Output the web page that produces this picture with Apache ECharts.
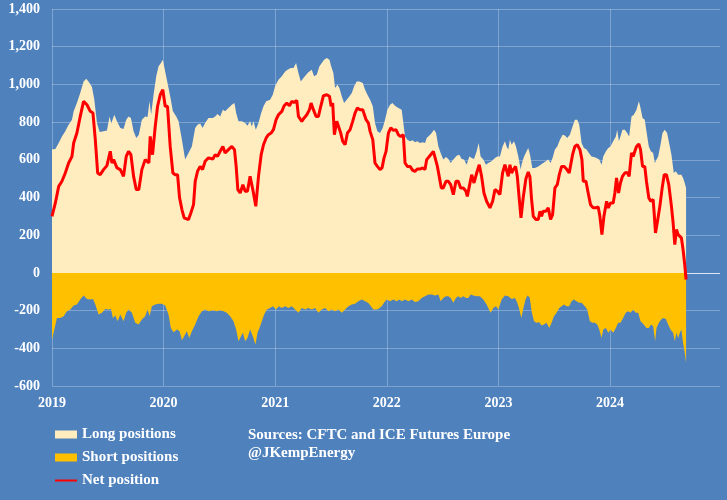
<!DOCTYPE html>
<html><head><meta charset="utf-8">
<script src="https://cdn.jsdelivr.net/npm/echarts@6/dist/echarts.min.js"></script>
<style>html,body{margin:0;padding:0;background:#4F81BD;}#c{width:727px;height:500px;}</style>
</head><body><div id="c"></div>
<script>
// x values: years elapsed since 1 Jan 2019; y values: positions (thousand lots)
const START_YEAR = 2019;
const yearTicks = [2019, 2020, 2021, 2022, 2023, 2024];
const seriesNames = ['Long positions', 'Short positions', 'Net position'];
const sourceLines = ['Sources: CFTC and ICE Futures Europe', '@JKempEnergy'];

const longPos = [[0.000,654],[0.030,657],[0.060,689],[0.089,724],[0.119,751],[0.149,786],[0.179,813],[0.194,857],[0.223,901],[0.253,954],[0.283,1016],[0.307,1030],[0.337,1007],[0.358,986],[0.379,919],[0.403,795],[0.427,747],[0.462,751],[0.492,756],[0.516,830],[0.531,792],[0.558,839],[0.582,804],[0.612,769],[0.641,763],[0.665,813],[0.686,830],[0.707,822],[0.731,751],[0.755,716],[0.778,733],[0.805,813],[0.835,830],[0.856,827],[0.874,910],[0.888,839],[0.910,945],[0.934,1043],[0.955,1096],[0.976,1113],[0.993,1131],[1.014,1069],[1.035,1007],[1.059,937],[1.083,857],[1.113,830],[1.134,804],[1.164,707],[1.193,601],[1.223,636],[1.253,671],[1.283,769],[1.304,786],[1.328,792],[1.349,769],[1.372,795],[1.402,822],
[1.417,830],[1.441,822],[1.462,830],[1.483,843],[1.507,830],[1.531,866],[1.551,857],[1.581,875],[1.611,892],[1.635,901],[1.650,848],[1.671,804],[1.701,804],[1.731,795],[1.751,781],[1.775,804],[1.790,777],[1.805,804],[1.826,760],[1.850,795],[1.874,848],[1.895,884],[1.919,910],[1.954,919],[1.978,945],[1.999,990],[2.029,1025],[2.059,1043],[2.089,1069],[2.110,1078],[2.140,1087],[2.164,1087],[2.187,1113],[2.208,1060],[2.229,1016],[2.253,1034],[2.277,1051],[2.297,1064],[2.327,1078],[2.348,1043],[2.372,1051],[2.396,1096],[2.417,1113],[2.438,1131],[2.462,1140],[2.486,1131],[2.501,1096],[2.521,1060],[2.536,981],[2.557,998],[2.575,981],[2.596,937],[2.617,901],[2.641,919],[2.665,937],[2.686,954],[2.707,990],[2.730,1016],[2.754,1016],[2.784,1007],
[2.805,972],[2.826,945],[2.850,919],[2.874,884],[2.894,795],[2.915,751],[2.939,742],[2.963,769],[2.984,813],[3.005,866],[3.029,892],[3.050,901],[3.073,887],[3.103,875],[3.133,866],[3.148,857],[3.163,724],[3.184,707],[3.208,698],[3.232,704],[3.252,693],[3.273,698],[3.297,689],[3.321,693],[3.342,689],[3.357,716],[3.381,729],[3.402,742],[3.423,760],[3.441,742],[3.462,671],[3.482,636],[3.506,601],[3.530,615],[3.551,604],[3.572,583],[3.596,601],[3.626,622],[3.649,627],[3.670,604],[3.691,601],[3.715,574],[3.739,618],[3.760,610],[3.781,604],[3.805,645],[3.823,689],[3.840,618],[3.864,601],[3.888,574],[3.909,583],[3.939,592],[3.969,610],[3.990,618],[4.013,618],[4.037,671],[4.058,698],[4.073,671],[4.088,654],[4.103,707],[4.118,680],[4.139,698],[4.157,671],[4.178,618],[4.199,548],
[4.207,575],[4.228,615],[4.252,645],[4.267,663],[4.282,630],[4.303,557],[4.327,557],[4.357,565],[4.378,574],[4.401,583],[4.425,592],[4.446,601],[4.467,583],[4.485,610],[4.506,654],[4.527,671],[4.551,707],[4.575,733],[4.596,729],[4.616,716],[4.640,733],[4.664,777],[4.685,813],[4.706,813],[4.724,786],[4.745,689],[4.766,663],[4.789,654],[4.813,633],[4.834,618],[4.855,615],[4.879,610],[4.903,601],[4.924,574],[4.939,618],[4.963,645],[4.984,663],[5.004,671],[5.028,698],[5.052,724],[5.064,760],[5.079,698],[5.093,724],[5.111,760],[5.132,760],[5.153,742],[5.171,724],[5.192,830],[5.213,839],[5.237,866],[5.258,910],[5.273,875],[5.291,822],[5.311,813],[5.326,751],[5.347,671],[5.365,645],[5.386,636],[5.401,583],[5.416,587],[5.431,618],[5.452,680],[5.470,742],[5.490,760],[5.511,742],[5.529,689],[5.550,627],[5.571,530],[5.589,539],[5.610,521],[5.625,530],[5.639,521],[5.654,504],[5.669,477],[5.681,451]];

const shortPos = [[0.000,-353],[0.021,-300],[0.044,-239],[0.074,-239],[0.104,-230],[0.134,-203],[0.164,-194],[0.194,-173],[0.223,-168],[0.253,-141],[0.283,-120],[0.313,-138],[0.343,-141],[0.367,-138],[0.388,-168],[0.418,-221],[0.447,-212],[0.477,-191],[0.507,-194],[0.528,-191],[0.546,-239],[0.567,-226],[0.588,-256],[0.612,-221],[0.641,-256],[0.665,-212],[0.686,-194],[0.716,-212],[0.746,-265],[0.776,-274],[0.805,-247],[0.835,-230],[0.856,-194],[0.874,-230],[0.895,-177],[0.925,-168],[0.955,-163],[0.985,-163],[1.014,-173],[1.044,-221],[1.065,-292],[1.089,-315],[1.119,-300],[1.143,-309],[1.164,-357],[1.184,-336],[1.208,-309],[1.229,-345],[1.253,-309],[1.283,-274],[1.313,-230],[1.343,-203],[1.372,-194],[1.402,-203],
[1.417,-212],[1.447,-198],[1.477,-203],[1.507,-198],[1.537,-203],[1.566,-212],[1.596,-230],[1.626,-256],[1.650,-300],[1.671,-362],[1.686,-371],[1.710,-318],[1.731,-362],[1.751,-345],[1.775,-300],[1.799,-336],[1.823,-380],[1.841,-318],[1.859,-292],[1.880,-256],[1.901,-221],[1.925,-194],[1.954,-186],[1.978,-177],[2.008,-194],[2.032,-177],[2.059,-186],[2.089,-177],[2.118,-186],[2.148,-177],[2.178,-194],[2.208,-212],[2.238,-186],[2.268,-194],[2.297,-186],[2.327,-194],[2.357,-186],[2.387,-212],[2.417,-194],[2.447,-186],[2.477,-203],[2.507,-194],[2.536,-203],[2.566,-194],[2.596,-212],[2.626,-194],[2.656,-177],[2.686,-168],[2.715,-163],[2.745,-150],[2.775,-141],
[2.805,-150],[2.835,-160],[2.879,-194],[2.903,-194],[2.924,-191],[2.954,-177],[2.975,-159],[2.999,-141],[3.029,-150],[3.059,-141],[3.088,-150],[3.112,-141],[3.133,-150],[3.163,-141],[3.193,-150],[3.223,-141],[3.252,-155],[3.282,-150],[3.312,-133],[3.342,-124],[3.372,-115],[3.402,-115],[3.432,-120],[3.462,-115],[3.482,-150],[3.506,-133],[3.530,-124],[3.551,-124],[3.572,-133],[3.596,-159],[3.619,-133],[3.640,-124],[3.661,-133],[3.685,-124],[3.709,-133],[3.730,-133],[3.751,-115],[3.775,-120],[3.805,-124],[3.834,-124],[3.864,-141],[3.894,-168],[3.915,-194],[3.930,-212],[3.954,-186],[3.978,-177],[3.999,-194],[4.029,-141],[4.058,-120],[4.088,-124],[4.118,-138],[4.148,-133],[4.169,-159],[4.187,-194],[4.205,-239],[4.222,-190],[4.243,-141],[4.260,-120],[4.280,-130],
[4.297,-203],[4.318,-256],[4.342,-265],[4.366,-262],[4.386,-279],[4.407,-274],[4.431,-265],[4.455,-292],[4.476,-265],[4.497,-230],[4.521,-212],[4.545,-186],[4.566,-177],[4.587,-168],[4.610,-177],[4.634,-177],[4.655,-150],[4.676,-141],[4.699,-150],[4.724,-159],[4.745,-159],[4.774,-177],[4.795,-194],[4.819,-256],[4.843,-265],[4.864,-265],[4.885,-274],[4.903,-300],[4.924,-345],[4.939,-300],[4.963,-292],[4.984,-318],[5.004,-300],[5.028,-318],[5.052,-292],[5.073,-265],[5.093,-265],[5.117,-239],[5.141,-212],[5.162,-203],[5.183,-212],[5.207,-194],[5.231,-212],[5.252,-212],[5.273,-256],[5.302,-274],[5.326,-292],[5.347,-292],[5.368,-274],[5.386,-283],[5.404,-362],[5.416,-292],[5.437,-265],[5.458,-247],[5.476,-239],[5.500,-244],[5.520,-274],[5.541,-300],[5.565,-318],[5.580,-362],[5.595,-318],[5.610,-345],[5.625,-318],[5.639,-300],[5.654,-371],[5.669,-424],[5.681,-477]];

const netPos = [[0.000,300],[0.030,371],[0.060,459],[0.089,486],[0.119,530],[0.149,583],[0.179,618],[0.194,689],[0.223,742],[0.253,830],[0.283,910],[0.313,892],[0.343,857],[0.367,848],[0.388,707],[0.409,530],[0.432,521],[0.462,548],[0.492,569],[0.507,574],[0.522,645],[0.537,583],[0.552,601],[0.582,557],[0.612,548],[0.641,512],[0.665,618],[0.686,645],[0.707,627],[0.731,512],[0.755,442],[0.778,442],[0.805,548],[0.835,601],[0.850,610],[0.868,583],[0.880,724],[0.901,627],[0.925,777],[0.946,884],[0.970,945],[0.993,972],[1.014,884],[1.035,884],[1.059,671],[1.083,530],[1.104,521],[1.125,521],[1.143,398],[1.164,336],[1.184,292],[1.223,283],[1.244,318],[1.268,362],[1.283,486],[1.304,539],[1.328,565],[1.349,548],[1.372,592],[1.402,610],
[1.417,618],[1.441,604],[1.462,627],[1.483,618],[1.507,645],[1.531,671],[1.551,636],[1.581,654],[1.611,671],[1.635,654],[1.650,565],[1.665,442],[1.686,424],[1.710,468],[1.731,433],[1.751,433],[1.775,512],[1.799,442],[1.826,353],[1.850,512],[1.874,627],[1.895,680],[1.919,716],[1.939,733],[1.963,742],[1.984,760],[2.008,813],[2.029,839],[2.059,857],[2.080,887],[2.104,901],[2.128,887],[2.148,910],[2.169,904],[2.193,915],[2.208,830],[2.223,834],[2.238,804],[2.259,822],[2.283,839],[2.307,866],[2.321,901],[2.342,866],[2.366,830],[2.387,830],[2.408,884],[2.432,940],[2.462,945],[2.486,937],[2.501,884],[2.515,901],[2.530,733],[2.551,804],[2.566,795],[2.587,742],[2.605,698],[2.626,680],[2.647,742],[2.671,760],[2.694,804],[2.715,848],[2.736,875],[2.760,866],[2.784,866],
[2.814,813],[2.835,795],[2.850,751],[2.874,707],[2.894,583],[2.915,565],[2.939,548],[2.957,557],[2.975,610],[2.993,645],[3.014,742],[3.035,769],[3.059,756],[3.082,760],[3.103,733],[3.124,724],[3.148,733],[3.163,583],[3.184,565],[3.208,565],[3.232,544],[3.252,539],[3.273,551],[3.297,551],[3.321,557],[3.342,548],[3.357,601],[3.372,604],[3.393,627],[3.417,645],[3.432,636],[3.453,565],[3.470,557],[3.488,451],[3.506,451],[3.530,486],[3.551,486],[3.572,468],[3.596,415],[3.619,486],[3.640,486],[3.661,451],[3.685,451],[3.709,433],[3.721,406],[3.739,459],[3.760,521],[3.781,477],[3.805,530],[3.828,574],[3.849,512],[3.870,424],[3.894,380],[3.924,345],[3.948,380],[3.969,442],[3.990,433],[4.013,415],[4.037,530],[4.058,574],[4.073,574],[4.088,512],[4.103,574],[4.118,530],[4.133,548],[4.154,565],[4.169,512],[4.187,389],[4.202,292],[4.222,400],[4.246,500],[4.267,535],[4.282,510],
[4.297,389],[4.312,300],[4.336,283],[4.357,283],[4.372,327],[4.386,300],[4.401,327],[4.425,327],[4.446,345],[4.467,283],[4.485,309],[4.506,451],[4.527,468],[4.545,521],[4.566,565],[4.587,565],[4.610,551],[4.634,530],[4.646,530],[4.664,627],[4.685,671],[4.706,680],[4.730,654],[4.748,601],[4.760,486],[4.784,486],[4.804,424],[4.825,362],[4.849,345],[4.873,345],[4.894,350],[4.909,300],[4.927,203],[4.945,300],[4.969,380],[4.984,345],[5.004,371],[5.028,371],[5.043,424],[5.058,504],[5.076,424],[5.093,477],[5.111,512],[5.132,530],[5.153,533],[5.171,512],[5.192,636],[5.207,618],[5.222,645],[5.237,671],[5.258,684],[5.273,654],[5.291,565],[5.311,565],[5.326,486],[5.347,398],[5.365,380],[5.386,389],[5.395,318],[5.407,212],[5.425,274],[5.446,353],[5.467,451],[5.485,521],[5.505,521],[5.526,468],[5.550,353],[5.565,265],[5.580,150],[5.595,230],[5.610,203],[5.625,212],[5.639,186],[5.654,124],[5.669,44],[5.681,-35]];

const toXY = arr => arr.map(p => [START_YEAR + p[0], p[1]]);
const FONT = '"Liberation Serif", "Times New Roman", serif';
const gridColor = 'rgba(255,255,255,0.27)';
const yMin = -600, yMax = 1400, yStep = 200;
const ySplitColors = [];
for (let v = yMin; v <= yMax; v += yStep) ySplitColors.push(v === 0 ? 'rgba(255,255,255,0.8)' : gridColor);

const chart = echarts.init(document.getElementById('c'));
chart.setOption({
  backgroundColor: '#4F81BD',
  animation: false,
  grid: { left: 52, right: 7, top: 9, bottom: 114, containLabel: false, outerBoundsMode: 'none' },
  xAxis: {
    type: 'value', min: yearTicks[0], max: 2024.985, interval: 1,
    axisLine: { show: false }, axisTick: { show: false },
    axisLabel: { color: '#fff', fontFamily: FONT, fontWeight: 'bold', fontSize: 14, margin: 10,
      showMaxLabel: false, formatter: v => String(Math.round(v)) },
    splitLine: { show: true, showMaxLine: false, lineStyle: { color: gridColor, width: 1 } }
  },
  yAxis: {
    type: 'value', min: yMin, max: yMax, interval: yStep,
    axisLine: { show: false }, axisTick: { show: false },
    axisLabel: { color: '#fff', fontFamily: FONT, fontWeight: 'bold', fontSize: 14, margin: 12,
      formatter: v => v.toLocaleString('en-US') },
    splitLine: { show: true, lineStyle: { color: ySplitColors, width: 1 } }
  },
  legend: {
    orient: 'vertical', left: 49, top: 422, itemWidth: 22, itemHeight: 8, itemGap: 8,
    textStyle: { color: '#fff', fontFamily: FONT, fontWeight: 'bold', fontSize: 15 },
    data: [
      { name: seriesNames[0], icon: 'rect' },
      { name: seriesNames[1], icon: 'rect' },
      { name: seriesNames[2], itemStyle: { opacity: 0 } }
    ]
  },
  graphic: [{
    type: 'text', left: 248, top: 426,
    style: { text: sourceLines.join('\n'), fill: '#fff', font: 'bold 15px ' + FONT, lineHeight: 18 }
  }],
  series: [
    { name: seriesNames[0], type: 'line', data: toXY(longPos), symbol: 'none', z: 1,
      lineStyle: { width: 0, color: '#FFEDC0' }, itemStyle: { color: '#FFEDC0' },
      areaStyle: { color: '#FFEDC0', opacity: 1 } },
    { name: seriesNames[1], type: 'line', data: toXY(shortPos), symbol: 'none', z: 1,
      lineStyle: { width: 0, color: '#FFC000' }, itemStyle: { color: '#FFC000' },
      areaStyle: { color: '#FFC000', opacity: 1 } },
    { name: seriesNames[2], type: 'line', data: toXY(netPos), symbol: 'none', z: 3,
      lineStyle: { width: 3, color: '#FF0000' }, itemStyle: { color: '#FF0000' } }
  ]
});
</script></body></html>
